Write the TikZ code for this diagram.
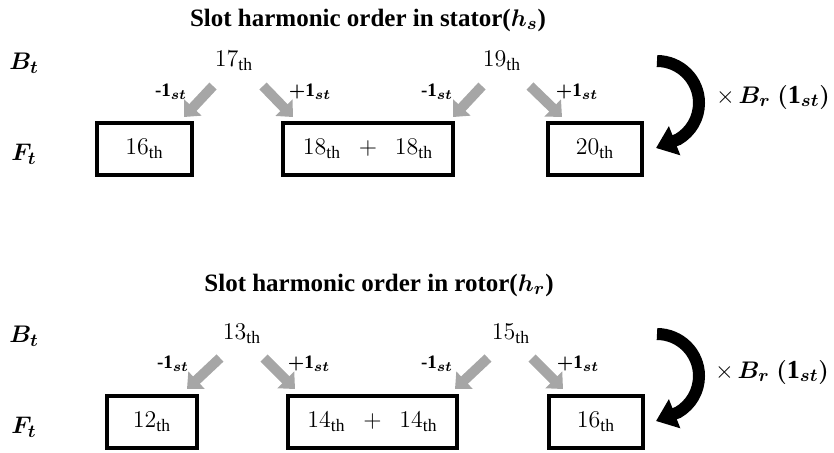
\documentclass[tikz,border=0pt]{standalone}
\usepackage{amsmath}
\usepackage{fontspec}
\setmainfont{Liberation Serif}
\usepackage{xcolor}
\usepackage{tikz}
\usetikzlibrary{arrows.meta, positioning}

\begin{document}
\begin{tikzpicture}[
    x=0.5pt, y=-0.5pt,
    title/.style={font=\fontsize{12.5}{14}\selectfont\bfseries},
    field/.style={font=\fontsize{13}{15}\selectfont},
    order/.style={font=\fontsize{12.5}{14}\selectfont},
    pmlabel/.style={font=\fontsize{9.5}{11}\selectfont},
    hbox/.style={rectangle, draw, line width=1.6pt, minimum height=26pt,
        inner sep=0pt, font=\fontsize{12.5}{14}\selectfont},
    pm/.style={line width=5pt, draw=gray!70, -{Triangle[width=11.5pt, length=6.5pt]}},
    mult/.style={line width=6pt, -{Triangle[width=15pt, length=10pt]}}
]
\useasboundingbox (0,0) rectangle (834,452);

% Stator
\node[title] (stitle) at (368,20) {Slot harmonic order in stator($\boldsymbol{h_s}$)};
\node[field] (sbt) at (24,63) {$\boldsymbol{B_t}$};
\node[field] (sft) at (24,154) {$\boldsymbol{F_t}$};
\node[order] (s17) at (234,61) {$17_{\mathrm{th}}$};
\node[order] (s19) at (502,61) {$19_{\mathrm{th}}$};
\node[hbox, minimum width=47.5pt] (s16) at (144.5,149) {$16_{\mathrm{th}}$};
\node[hbox, minimum width=85pt] (s18) at (368,149) {$18_{\mathrm{th}}\enspace+\enspace18_{\mathrm{th}}$};
\node[hbox, minimum width=47pt] (s20) at (595,149) {$20_{\mathrm{th}}$};
\node[pmlabel] (s17m) at (171,92) {\textbf{-}$\mathbf{1}_{\boldsymbol{st}}$};
\node[pmlabel] (s17p) at (310,92) {$\boldsymbol{+}\mathbf{1}_{\boldsymbol{st}}$};
\node[pmlabel] (s19m) at (437,92) {\textbf{-}$\mathbf{1}_{\boldsymbol{st}}$};
\node[pmlabel] (s19p) at (577,92) {$\boldsymbol{+}\mathbf{1}_{\boldsymbol{st}}$};
\node[field] (smul) at (773,97) {$\times\,\boldsymbol{B_r}\ \boldsymbol{(}\mathbf{1}_{\boldsymbol{st}}\boldsymbol{)}$};

\coordinate (s17a) at (213,86);
\coordinate (s17b) at (184,117);
\coordinate (s17c) at (263,86);
\coordinate (s17d) at (293,117);
\coordinate (s19a) at (482,86);
\coordinate (s19b) at (453,117);
\coordinate (s19c) at (530,86);
\coordinate (s19d) at (562,117);
\coordinate (sarc) at (657,61);
\coordinate (stip) at (656,148);

\draw[pm] (s17a) -- (s17b);
\draw[pm] (s17c) -- (s17d);
\draw[pm] (s19a) -- (s19b);
\draw[pm] (s19c) -- (s19d);
\draw[mult] (sarc) arc[start angle=90, end angle=-60, radius=21pt] -- (stip);

% Rotor
\node[title] (rtitle) at (379,285) {Slot harmonic order in rotor($\boldsymbol{h_r}$)};
\node[field] (rbt) at (24,336) {$\boldsymbol{B_t}$};
\node[field] (rft) at (24,427) {$\boldsymbol{F_t}$};
\node[order] (r13) at (242,334) {$13_{\mathrm{th}}$};
\node[order] (r15) at (511,334) {$15_{\mathrm{th}}$};
\node[hbox, minimum width=45pt] (r12) at (152,422) {$12_{\mathrm{th}}$};
\node[hbox, minimum width=84.5pt] (r14) at (372.5,422) {$14_{\mathrm{th}}\enspace+\enspace14_{\mathrm{th}}$};
\node[hbox, minimum width=47pt] (r16) at (596,422) {$16_{\mathrm{th}}$};
\node[pmlabel] (r13m) at (173,364) {\textbf{-}$\mathbf{1}_{\boldsymbol{st}}$};
\node[pmlabel] (r13p) at (309,364) {$\boldsymbol{+}\mathbf{1}_{\boldsymbol{st}}$};
\node[pmlabel] (r15m) at (437,364) {\textbf{-}$\mathbf{1}_{\boldsymbol{st}}$};
\node[pmlabel] (r15p) at (578,364) {$\boldsymbol{+}\mathbf{1}_{\boldsymbol{st}}$};
\node[field] (rmul) at (772,372) {$\times\,\boldsymbol{B_r}\ \boldsymbol{(}\mathbf{1}_{\boldsymbol{st}}\boldsymbol{)}$};

\coordinate (r13a) at (220,358);
\coordinate (r13b) at (187,389);
\coordinate (r13c) at (264,358);
\coordinate (r13d) at (295,389);
\coordinate (r15a) at (488,358);
\coordinate (r15b) at (455,389);
\coordinate (r15c) at (532,358);
\coordinate (r15d) at (563,389);
\coordinate (rarc) at (657,334);
\coordinate (rtip) at (656,421);

\draw[pm] (r13a) -- (r13b);
\draw[pm] (r13c) -- (r13d);
\draw[pm] (r15a) -- (r15b);
\draw[pm] (r15c) -- (r15d);
\draw[mult] (rarc) arc[start angle=90, end angle=-60, radius=21pt] -- (rtip);

\end{tikzpicture}
\end{document}
